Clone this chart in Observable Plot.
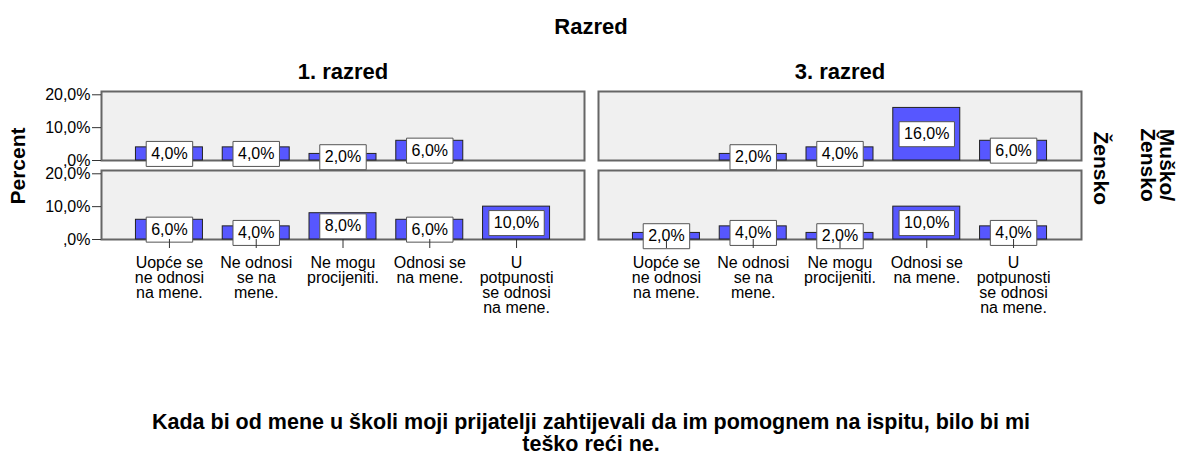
<!DOCTYPE html>
<html>
<head>
<meta charset="utf-8">
<script src="https://cdn.jsdelivr.net/npm/d3@7"></script>
<script src="https://cdn.jsdelivr.net/npm/@observablehq/plot@0.6"></script>
<style>
  body { margin: 0; background: #fff; }
  #chart { width: 1181px; height: 459px; }
</style>
</head>
<body>
<div id="chart"></div>
<script>
// ---------- data ----------
const title = "Razred";
const yLabel = "Percent";
const rowVariableLines = ["Muško/", "Žensko"];
const captionLines = [
  "Kada bi od mene u školi moji prijatelji zahtijevali da im pomognem na ispitu, bilo bi mi",
  "teško reći ne."
];
const grades = ["1. razred", "3. razred"];
const genders = ["Muško", "Žensko"];
const genderTickLabels = ["", "Žensko"];
const categories = [
  "Uopće se ne odnosi na mene.",
  "Ne odnosi se na mene.",
  "Ne mogu procijeniti.",
  "Odnosi se na mene.",
  "U potpunosti se odnosi na mene."
];
const categoryTickLabels = [
  "Uopće se\nne odnosi\nna mene.",
  "Ne odnosi\nse na\nmene.",
  "Ne mogu\nprocijeniti.",
  "Odnosi se\nna mene.",
  "U\npotpunosti\nse odnosi\nna mene."
];
const yTicks = [0, 10, 20];
const pct1Musko  = [4, 4, 2, 6, null];
const pct1Zensko = [6, 4, 8, 6, 10];
const pct3Musko  = [null, 2, 4, 16, 6];
const pct3Zensko = [2, 4, 2, 10, 4];

const series = [
  [grades[0], genders[0], pct1Musko],
  [grades[0], genders[1], pct1Zensko],
  [grades[1], genders[0], pct3Musko],
  [grades[1], genders[1], pct3Zensko]
];
const data = series.flatMap(([razred, spol, vals]) =>
  vals.map((value, i) => ({razred, spol, kategorija: categories[i], value}))
).filter(d => d.value != null);

// ---------- helpers ----------
const fmt = v => v.toFixed(1).replace(".", ",") + "%";
const yFmt = v => v === 0 ? ",0%" : fmt(v);
const FONT = "'Liberation Sans', Arial, Helvetica, sans-serif";
const ctx = document.createElement("canvas").getContext("2d");
ctx.font = "16px 'Liberation Sans', Arial, sans-serif";
const boxHalfWidth = d => (ctx.measureText(fmt(d.value)).width + 10) / 2;
const labelBox = {
  draw(context, size) {
    const hw = Math.sqrt(size / Math.PI), hh = 12.5;
    context.moveTo(-hw, -hh);
    context.lineTo(hw, -hh);
    context.lineTo(hw, hh);
    context.lineTo(-hw, hh);
    context.closePath();
  }
};

const chart = Plot.plot({
  width: 1181,
  height: 459,
  marginLeft: 101,
  marginRight: 100,
  marginTop: 91,
  marginBottom: 220,
  facet: {marginTop: 0, marginRight: 0, marginBottom: 0, marginLeft: 0},
  style: {fontFamily: FONT, fontSize: "16px", color: "#000", background: "#fff"},
  fx: {domain: grades, paddingInner: 14 / 497, paddingOuter: 0, round: false},
  fy: {domain: genders, paddingInner: 10 / 79, paddingOuter: 0, round: false, axis: null},
  x: {domain: categories, paddingInner: 0.228, paddingOuter: 0.397, round: false},
  y: {domain: [0, 21]},
  r: {type: "linear", domain: [0, 100], range: [0, 100]},
  marks: [
    Plot.frame({fill: "#f0f0f0", stroke: "#666", strokeWidth: 2}),
    Plot.barY(data, {fx: "razred", fy: "spol", x: "kategorija", y: "value",
      fill: "#5757ff", stroke: "#222", strokeWidth: 1}),
    Plot.dot(data, {fx: "razred", fy: "spol", x: "kategorija", y: d => d.value / 2,
      r: boxHalfWidth, symbol: labelBox, fill: "#fff", stroke: "#555", strokeWidth: 1}),
    Plot.text(data, {fx: "razred", fy: "spol", x: "kategorija", y: d => d.value / 2,
      text: d => fmt(d.value), fontSize: 16, fill: "#000"}),
    Plot.axisY({ticks: yTicks, tickFormat: yFmt, tickSize: 9, tickPadding: 2,
      fontSize: 16, label: null, stroke: "#333"}),
    Plot.axisX({anchor: "bottom", tickFormat: d => categoryTickLabels[categories.indexOf(d)],
      tickSize: 9, tickPadding: 9, fontSize: 16, lineHeight: 0.94, label: null, stroke: "#333"}),
    Plot.axisFx({anchor: "top", tickSize: 0, tickPadding: 13, fontSize: 22, fontWeight: "bold", label: null}),
    Plot.text(genders, {fx: () => grades[grades.length - 1], fy: d => d,
      text: (d, i) => genderTickLabels[i], frameAnchor: "right", rotate: 90, dx: 19,
      fontSize: 21, fontWeight: "bold"})
  ]
});

// ---------- outer titles ----------
const svg = d3.select(chart);
svg.append("text")
  .attr("x", 591).attr("y", 34)
  .attr("text-anchor", "middle")
  .style("font", `bold 22px ${FONT}`)
  .text(title);
svg.append("text")
  .attr("transform", "translate(18,166) rotate(-90)")
  .attr("text-anchor", "middle").attr("dy", "0.35em")
  .style("font", `bold 21px ${FONT}`)
  .text(yLabel);
const rv = svg.append("text")
  .attr("transform", "translate(1157,165) rotate(90)")
  .attr("text-anchor", "middle")
  .style("font", `bold 21px ${FONT}`);
rowVariableLines.forEach((t, i) => rv.append("tspan").attr("x", 0).attr("y", i === 0 ? -3 : 16).text(t));
const cap = svg.append("text").attr("text-anchor", "middle").style("font", `bold 21.5px ${FONT}`);
captionLines.forEach((t, i) => cap.append("tspan").attr("x", 591).attr("y", 429 + i * 22).text(t));

document.getElementById("chart").appendChild(chart);
</script>
</body>
</html>
